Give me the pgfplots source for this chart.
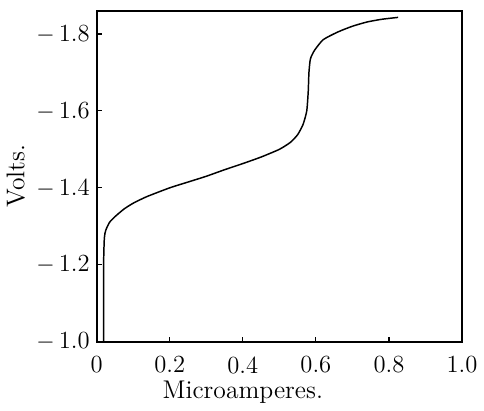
\documentclass[border=0pt]{standalone}
\usepackage{pgfplots}
\pgfplotsset{compat=1.18}

\begin{document}
\begin{tikzpicture}
\begin{axis}[
    scale only axis,
    width=185.5pt, height=168pt,
    xmin=0, xmax=1,
    ymin=-1.86, ymax=-1.0,
    y dir=reverse,
    axis line style={line width=0.9pt},
    tick style={line width=0.6pt, black},
    tick align=inside,
    major tick length=2.5pt,
    xtick={0,0.2,0.4,0.6,0.8,1.0},
    xticklabels={0,0.2,0.4,0.6,0.8,1.0},
    ytick={-1.0,-1.2,-1.4,-1.6,-1.8},
    yticklabels={$-$\,1.0,$-$\,1.2,$-$\,1.4,$-$\,1.6,$-$\,1.8},
    xtick pos=bottom, ytick pos=left,
    tick label style={font=\fontsize{12.5}{14}\selectfont},
    xticklabel style={yshift=-4pt},
    label style={font=\fontsize{13}{15}\selectfont},
    xlabel={Microamperes.},
    ylabel={Volts.},
    xlabel style={at={(ticklabel cs:0.40)}, anchor=near ticklabel, yshift=3pt},
    ylabel style={yshift=-1pt},
]
\addplot[black, line width=0.75pt, smooth, tension=0.35] coordinates {
    (0.019,-1.0) (0.019,-1.20) (0.021,-1.27) (0.025,-1.29) (0.035,-1.31)
    (0.05,-1.325) (0.075,-1.345) (0.1,-1.36) (0.137,-1.377) (0.2,-1.40)
    (0.25,-1.415) (0.3,-1.43) (0.35,-1.447) (0.4,-1.463) (0.45,-1.48)
    (0.5,-1.50) (0.53,-1.518) (0.55,-1.538) (0.565,-1.565) (0.575,-1.60)
    (0.579,-1.65) (0.581,-1.70) (0.585,-1.735) (0.596,-1.757) (0.62,-1.785)
    (0.66,-1.805) (0.70,-1.82) (0.74,-1.831) (0.78,-1.838) (0.825,-1.843)
};
\end{axis}
\path (current axis.north) ++(0,5.5pt);
\path (current axis.east) ++(7pt,0);
\end{tikzpicture}
\end{document}
